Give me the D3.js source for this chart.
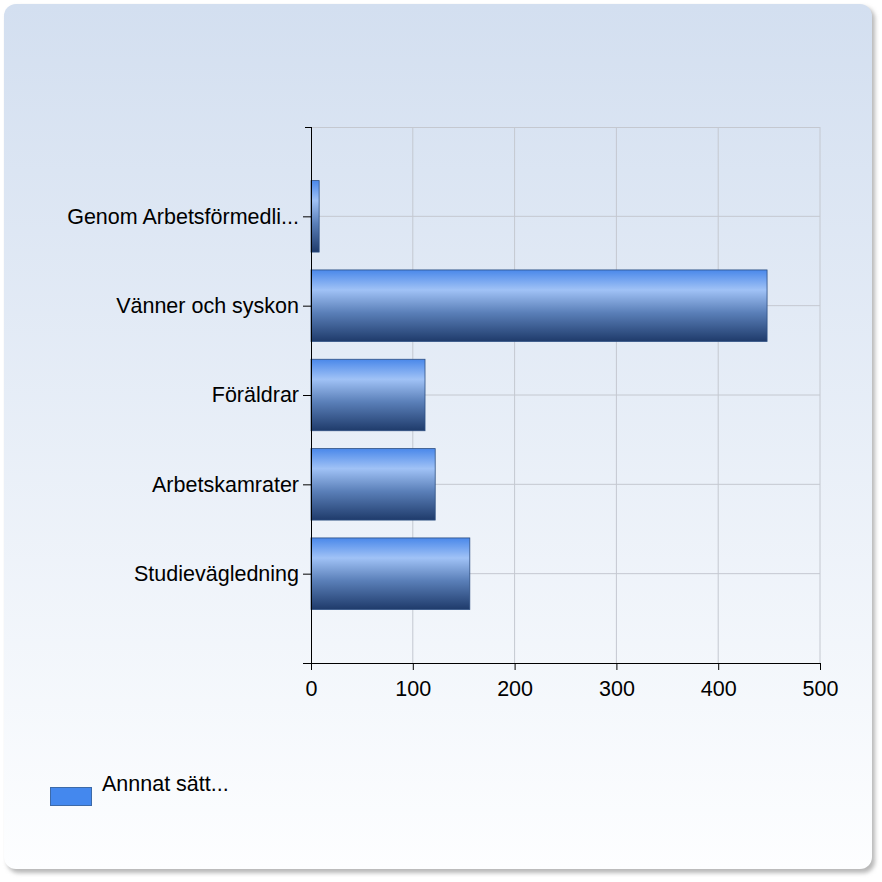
<!DOCTYPE html>
<html>
<head>
<meta charset="utf-8">
<script src="https://cdn.jsdelivr.net/npm/d3@7"></script>
<style>
  body { margin: 0; background: #fff; }
  text { font-family: "Liberation Sans", Arial, sans-serif; }
</style>
</head>
<body>
<script>
var categories = ["Genom Arbetsförmedli...", "Vänner och syskon", "Föräldrar", "Arbetskamrater", "Studievägledning"];
var values = [8, 448, 112, 122, 156];
var xTicks = [0, 100, 200, 300, 400, 500];
var legendLabel = "Annnat sätt...";

var width = 882, height = 882;
var fontSize = 21.5;
var svg = d3.select("body").append("svg")
    .attr("width", width)
    .attr("height", height);

var defs = svg.append("defs");

// panel background
var bg = defs.append("linearGradient").attr("id", "bg")
    .attr("x1", 0).attr("y1", 0).attr("x2", 0).attr("y2", 1);
bg.append("stop").attr("offset", "0%").attr("stop-color", "#d3dff0");
bg.append("stop").attr("offset", "100%").attr("stop-color", "#fdfeff");

// bar shading
var bar = defs.append("linearGradient").attr("id", "bar")
    .attr("x1", 0).attr("y1", 0).attr("x2", 0).attr("y2", 1);
bar.append("stop").attr("offset", "0%").attr("stop-color", "#4a88ea");
bar.append("stop").attr("offset", "28%").attr("stop-color", "#a0c2f6");
bar.append("stop").attr("offset", "60%").attr("stop-color", "#5a7fb8");
bar.append("stop").attr("offset", "100%").attr("stop-color", "#1f3b6b");

var blur = defs.append("filter").attr("id", "shadow")
    .attr("x", "-5%").attr("y", "-5%").attr("width", "110%").attr("height", "110%");
blur.append("feGaussianBlur").attr("stdDeviation", 2);

// shadow + panel
svg.append("rect")
    .attr("x", 7).attr("y", 7).attr("width", 868).attr("height", 866)
    .attr("rx", 12).attr("fill", "#b8b8b8")
    .attr("filter", "url(#shadow)");
svg.append("rect")
    .attr("x", 4).attr("y", 4).attr("width", 868).attr("height", 865)
    .attr("rx", 12).attr("fill", "url(#bg)");

var pLeft = 311, pRight = 820, pTop = 127, pBottom = 663;

var x = d3.scaleLinear().domain([0, 500]).range([pLeft, pRight]);
var y = d3.scalePoint().domain(categories).range([pTop, pBottom]).padding(1);
var step = y.step();
var barH = step * 0.8;

var g = svg.append("g");

// grid
g.selectAll(".vgrid").data(xTicks.slice(1)).enter().append("line")
    .attr("x1", d => x(d)).attr("x2", d => x(d))
    .attr("y1", pTop).attr("y2", pBottom)
    .attr("stroke", "#c4c8d0").attr("stroke-width", 1);
g.selectAll(".hgrid").data(categories).enter().append("line")
    .attr("x1", pLeft).attr("x2", pRight)
    .attr("y1", d => y(d)).attr("y2", d => y(d))
    .attr("stroke", "#c4c8d0").attr("stroke-width", 1);
g.append("line")
    .attr("x1", pLeft).attr("x2", pRight).attr("y1", pTop + 0.5).attr("y2", pTop + 0.5)
    .attr("stroke", "#c4c8d0");

// bars
g.selectAll(".bar").data(values).enter().append("rect")
    .attr("x", x(0))
    .attr("y", (d, i) => y(categories[i]) - barH / 2)
    .attr("width", d => x(d) - x(0))
    .attr("height", barH)
    .attr("fill", "url(#bar)")
    .attr("stroke", "#2d4f82").attr("stroke-width", 0.8);

// x axis
var xAxis = d3.axisBottom(x).tickValues(xTicks).tickSize(7).tickPadding(11);
var xg = svg.append("g").attr("transform", "translate(0," + pBottom + ")").call(xAxis);
xg.select(".domain").attr("d", "M" + (pLeft - 8) + ",0.5H" + pRight);
xg.selectAll("text").attr("font-size", fontSize).attr("fill", "#000")
    .attr("font-family", "'Liberation Sans', Arial, sans-serif");
xg.selectAll("line").attr("stroke", "#000");

// y axis
var yAxis = d3.axisLeft(y).tickSize(8).tickPadding(4);
var yg = svg.append("g").attr("transform", "translate(" + pLeft + ",0)").call(yAxis);
yg.select(".domain").attr("d", "M0.5," + pTop + "V" + pBottom);
yg.selectAll("text").attr("font-size", fontSize).attr("fill", "#000")
    .attr("font-family", "'Liberation Sans', Arial, sans-serif");
yg.selectAll("line").attr("stroke", "#000");
yg.append("line").attr("x1", -6).attr("x2", 0).attr("y1", pTop + 0.5).attr("y2", pTop + 0.5)
    .attr("stroke", "#000");

// legend
svg.append("rect")
    .attr("x", 50.5).attr("y", 787.5).attr("width", 41).attr("height", 18)
    .attr("fill", "#4488ee").attr("stroke", "#3d6aa8");
svg.append("text")
    .attr("x", 102).attr("y", 791)
    .attr("font-size", fontSize).attr("fill", "#000")
    .text(legendLabel);
</script>
</body>
</html>
